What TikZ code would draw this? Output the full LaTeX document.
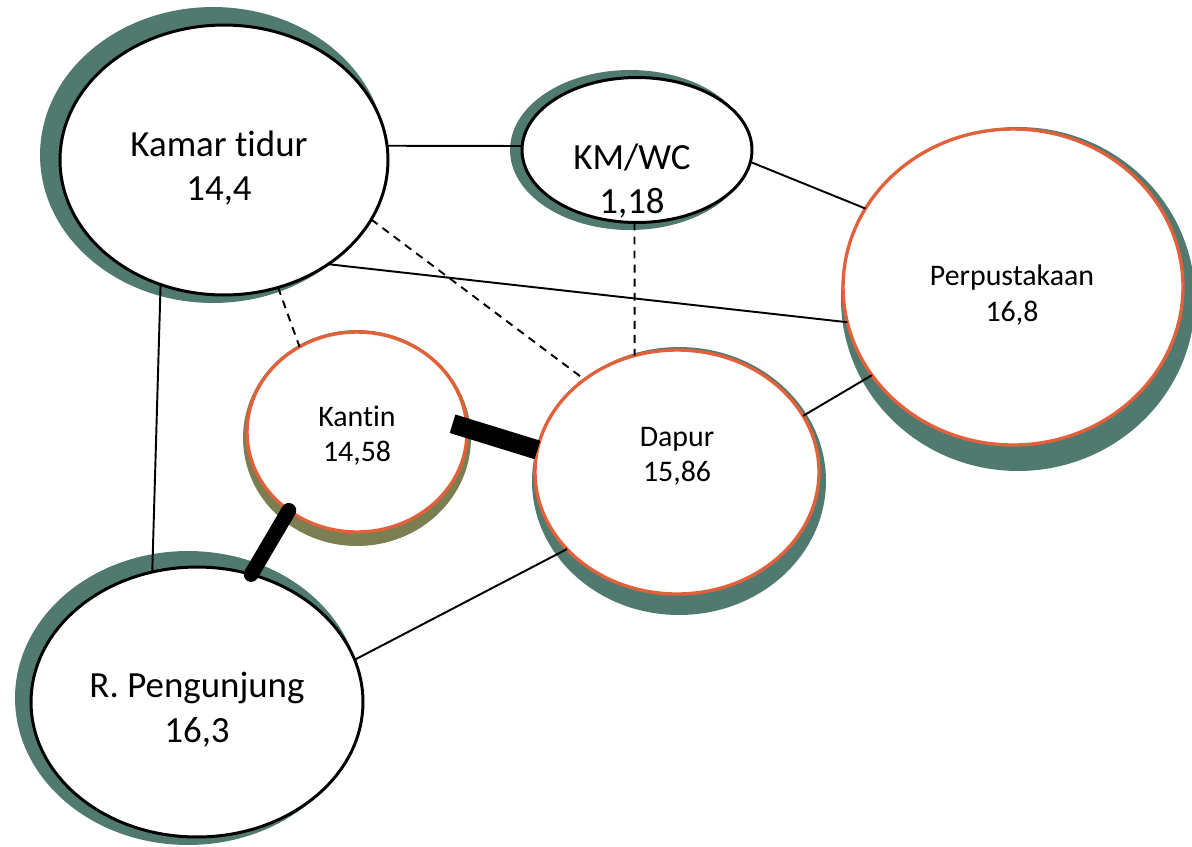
\documentclass[tikz,border=0pt]{standalone}
\usepackage{fontspec}
\setmainfont{Carlito}[Ligatures=NoCommon]
\usetikzlibrary{shapes.geometric, calc}
\definecolor{shadeteal}{HTML}{507A70}
\definecolor{shadeolive}{HTML}{7B7E50}
\definecolor{roomorange}{HTML}{E2603A}

\begin{document}
\begin{tikzpicture}[x=0.02cm, y=-0.02cm]
        % Styles
        \tikzstyle{room} = [draw=black, ellipse, fill=white, line width=1.7pt, inner sep=0pt, outer sep=0pt]
        \tikzstyle{hotroom} = [room, draw=roomorange, line width=1.9pt]
        \tikzstyle{bigtext} = [align=center, font=\fontsize{21}{25.5}\selectfont]
        \tikzstyle{smalltext} = [align=center, font=\fontsize{17}{20}\selectfont]
        \tikzstyle{link} = [line width=1.1pt]
        \tikzstyle{weak} = [link, dash pattern=on 4.5pt off 3.5pt]
        \tikzstyle{strong} = [line width=11pt]

        \useasboundingbox (0,0) rectangle (1192,846);

        % Shadows
        \fill[shadeteal] (213,155) ellipse [x radius=3.46cm, y radius=2.96cm];
        \fill[shadeteal] (630,150) ellipse [x radius=2.4cm, y radius=1.6cm];
        \fill[shadeteal] (1018,299) ellipse [x radius=3.54cm, y radius=3.44cm];
        \fill[shadeolive] (357,438) ellipse [x radius=2.28cm, y radius=2.16cm];
        \fill[shadeteal] (679,481) ellipse [x radius=2.94cm, y radius=2.68cm];
        \fill[shadeteal] (188,698) ellipse [x radius=3.46cm, y radius=2.94cm];

        % Rooms
        \node[room, minimum width=6.56cm, minimum height=5.4cm] (kamar) at (224,160) {};
        \node[room, minimum width=4.6cm, minimum height=2.9cm] (kmwc) at (637,150) {};
        \node[hotroom, minimum width=6.8cm, minimum height=6.32cm] (pustaka) at (1013,287) {};
        \node[hotroom, minimum width=4.4cm, minimum height=4.0cm] (kantin) at (357,432) {};
        \node[hotroom, minimum width=5.68cm, minimum height=4.88cm] (dapur) at (677,472) {};
        \node[room, minimum width=6.64cm, minimum height=5.4cm] (tamu) at (197,702) {};

        % Labels
        \node[bigtext] (kamar-txt) at (219,168) {Kamar tidur\\14,4};
        \node[bigtext] (kmwc-txt) at (632,181) {KM/WC\\1,18};
        \node[smalltext] (pustaka-txt) at (1012,295) {Perpustakaan\\16,8};
        \node[smalltext] (kantin-txt) at (357,436) {Kantin\\14,58};
        \node[smalltext] (dapur-txt) at (677,456) {Dapur\\15,86};
        \node[bigtext] (tamu-txt) at (197,710) {R. Pengunjung\\16,3};

        % Links
        \draw[link] (kamar.5) -- (kmwc.178);
        \draw[link] (kmwc.-6) -- (pustaka.152);
        \draw[link] (kamar.-45) -- (pustaka.-168);
        \draw[link] (kamar.-117) -- (tamu.109);
        \draw[link] (dapur.24) -- (pustaka.-148);
        \draw[link] (dapur.-145) -- (tamu.15);
        \draw[weak] (kamar.-22) -- (dapur.135);
        \draw[weak] (kamar.-67) -- (kantin.124);
        \draw[weak] (kmwc.-92) -- (dapur.110);
        \draw[strong, shorten <=-0.3cm] (kantin.2) -- (dapur.171);
        \draw[strong, line width=8.5pt, line cap=round] (kantin.-131) -- (tamu.67);
    \end{tikzpicture}
\end{document}
